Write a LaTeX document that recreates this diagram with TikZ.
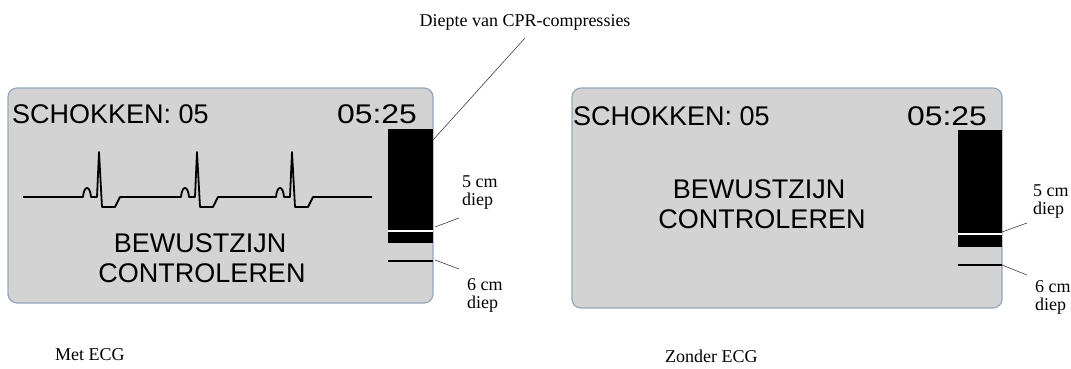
\documentclass[tikz,border=0pt]{standalone}
\usepackage{fontspec}
\setmainfont{Liberation Serif}
\newfontfamily\lcdfont{Liberation Sans}
\usetikzlibrary{positioning}
\definecolor{lcdfill}{RGB}{211,211,211}
\definecolor{lcdrim}{RGB}{150,166,188}
\tikzset{
    screen/.style={draw=lcdrim, fill=lcdfill, line width=1.2pt, rounded corners=9pt},
    lcd/.style={font=\lcdfont\fontsize{27}{30}\selectfont, inner sep=0pt},
    depthbar/.style={fill=black},
    caption/.style={font=\fontsize{18}{18}\selectfont, inner sep=0pt},
    leader/.style={draw=black!75, line width=0.6pt},
    ecg/.style={line width=1.8pt, line join=round},
}

\begin{document}
\begin{tikzpicture}[x=1pt, y=-1pt]
    \useasboundingbox (0,0) rectangle (1071,369);

    \node[caption, anchor=base] (title) at (525,27) {Diepte van CPR-compressies};

    % met ECG
    \draw[screen] (8,88) rectangle (433,303);
    \node[lcd, anchor=base west] (shockA) at (12,123) {SCHOKKEN: 05};
    \node[lcd, anchor=base east] (timeA) at (417,123) {\scalebox{1.18}[1]{05:25}};
    \draw[ecg] (23,197)
        foreach \r in {99,197,292} {
            -- (\r-16,197) .. controls (\r-15,185) and (\r-9,185) .. (\r-8,197)
            -- (\r-2,197) -- (\r,152) -- (\r+3,207) -- (\r+16,207) -- (\r+21,197)
        } -- (372,197);
    \node[lcd, anchor=base] (msgA) at (200,252) {BEWUSTZIJN};
    \node[lcd, anchor=base] (msgA2) at (202,282) {CONTROLEREN};
    \fill[depthbar] (388,129) rectangle (433,243);
    \fill[white] (388,229.5) rectangle (433,231.5);
    \fill[depthbar] (388,260) rectangle (433,262);
    \coordinate (topA) at (433,140);
    \coordinate (fiveA) at (435,227);
    \coordinate (sixA) at (435,260);
    \node[caption, align=left, anchor=north west] (labA5) at (462,176) {5 cm\\diep};
    \node[caption, align=left, anchor=north west] (labA6) at (467,278) {6 cm\\diep};
    \coordinate (endA5) at (459,218);
    \coordinate (endA6) at (459,269);
    \coordinate (endT) at (525,38);
    \draw[leader] (topA) -- (endT);
    \draw[leader] (fiveA) -- (endA5);
    \draw[leader] (sixA) -- (endA6);
    \node[caption, anchor=base west] (capA) at (55,360) {Met ECG};

    % zonder ECG
    \draw[screen] (572,88) rectangle (1002,308);
    \node[lcd, anchor=base west] (shockB) at (573,125) {SCHOKKEN: 05};
    \node[lcd, anchor=base east] (timeB) at (987,125) {\scalebox{1.18}[1]{05:25}};
    \node[lcd, anchor=base] (msgB) at (759,198) {BEWUSTZIJN};
    \node[lcd, anchor=base] (msgB2) at (762,228) {CONTROLEREN};
    \fill[depthbar] (958,130) rectangle (1002,247);
    \fill[white] (958,233) rectangle (1002,235);
    \fill[depthbar] (958,264) rectangle (1002,266);
    \coordinate (fiveB) at (1002,232);
    \coordinate (sixB) at (1002,265);
    \node[caption, align=left, anchor=north west] (labB5) at (1033,185) {5 cm\\diep};
    \node[caption, align=left, anchor=north west] (labB6) at (1035,280) {6 cm\\diep};
    \coordinate (endB5) at (1027,223);
    \coordinate (endB6) at (1027,275);
    \draw[leader] (fiveB) -- (endB5);
    \draw[leader] (sixB) -- (endB6);
    \node[caption, anchor=base west] (capB) at (665,362) {Zonder ECG};
\end{tikzpicture}
\end{document}
